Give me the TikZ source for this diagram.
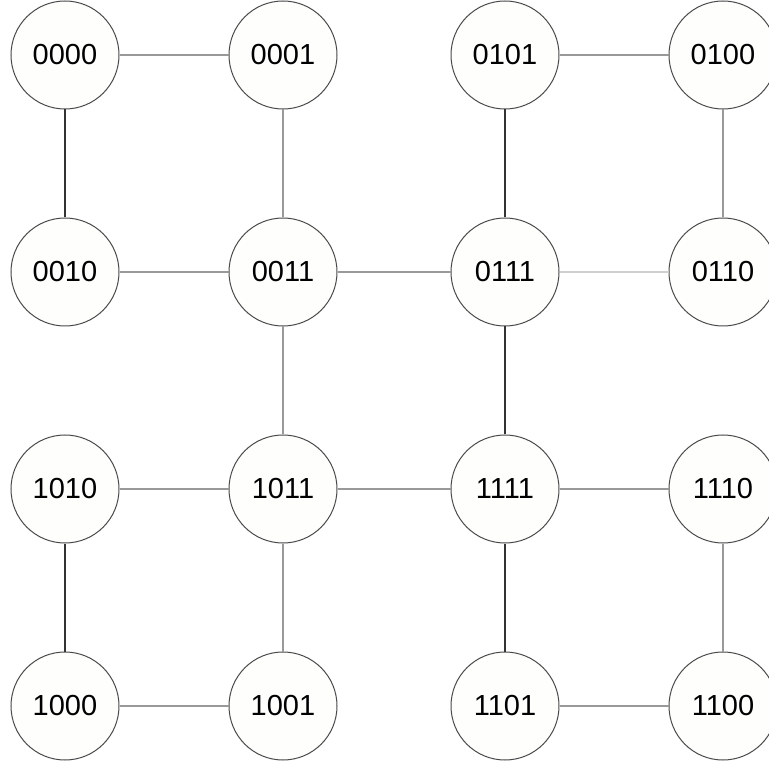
\documentclass[tikz,border=0pt]{standalone}
\usepackage{fontspec}
\setmainfont{Liberation Sans}
\usetikzlibrary{positioning}
\definecolor{ringgray}{HTML}{4A4A4A}
\definecolor{nodefill}{HTML}{FEFEFD}
\definecolor{edgedark}{HTML}{333333}
\definecolor{edgegray}{HTML}{999999}
\definecolor{edgelight}{HTML}{CFCFCF}

\begin{document}
\begin{tikzpicture}[x=1pt, y=-1pt,
  state/.style={circle, draw=ringgray, fill=nodefill, line width=1pt,
    minimum size=108pt, inner sep=0pt, font=\fontsize{29}{31}\selectfont},
  dark/.style={draw=edgedark, line width=1.1pt},
  grey/.style={draw=edgegray, line width=1.1pt},
  pale/.style={draw=edgelight, line width=1.1pt}]
  \useasboundingbox (0,0) rectangle (769,767);

  % row 1
  \node[state] (n0000) at (65,55)  {0000};
  \node[state] (n0001) at (283,55) {0001};
  \node[state] (n0101) at (505,55) {0101};
  \node[state] (n0100) at (723,55) {0100};
  % row 2
  \node[state] (n0010) at (65,272)  {0010};
  \node[state] (n0011) at (283,272) {0011};
  \node[state] (n0111) at (505,272) {0111};
  \node[state] (n0110) at (723,272) {0110};
  % row 3
  \node[state] (n1010) at (65,489)  {1010};
  \node[state] (n1011) at (283,489) {1011};
  \node[state] (n1111) at (505,489) {1111};
  \node[state] (n1110) at (723,489) {1110};
  % row 4
  \node[state] (n1000) at (65,706)  {1000};
  \node[state] (n1001) at (283,706) {1001};
  \node[state] (n1101) at (505,706) {1101};
  \node[state] (n1100) at (723,706) {1100};

  % horizontal links
  \draw[grey] (n0000) -- (n0001);
  \draw[grey] (n0101) -- (n0100);
  \draw[grey] (n0010) -- (n0011);
  \draw[grey] (n0011) -- (n0111);
  \draw[pale] (n0111) -- (n0110);
  \draw[grey] (n1010) -- (n1011);
  \draw[grey] (n1011) -- (n1111);
  \draw[grey] (n1111) -- (n1110);
  \draw[grey] (n1000) -- (n1001);
  \draw[grey] (n1101) -- (n1100);

  % vertical links
  \draw[dark] (n0000) -- (n0010);
  \draw[grey] (n0001) -- (n0011);
  \draw[dark] (n0101) -- (n0111);
  \draw[grey] (n0100) -- (n0110);
  \draw[grey] (n0011) -- (n1011);
  \draw[dark] (n0111) -- (n1111);
  \draw[dark] (n1010) -- (n1000);
  \draw[grey] (n1011) -- (n1001);
  \draw[dark] (n1111) -- (n1101);
  \draw[grey] (n1110) -- (n1100);
\end{tikzpicture}
\end{document}
